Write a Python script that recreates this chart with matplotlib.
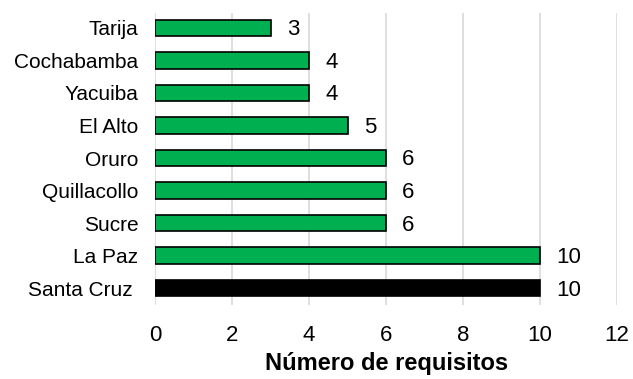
import matplotlib
matplotlib.use("Agg")
import matplotlib.pyplot as plt
import numpy as np

plt.rcParams['font.family'] = ['Liberation Sans', 'DejaVu Sans']

# data (bottom to top)
ciudades = ['Santa Cruz ', 'La Paz', 'Sucre', 'Quillacollo', 'Oruro',
            'El Alto', 'Yacuiba', 'Cochabamba', 'Tarija']
requisitos = [10, 10, 6, 6, 6, 5, 4, 4, 3]
colores = ['#000000'] + ['#00b050'] * 8

fig = plt.figure(figsize=(6.33, 3.79), dpi=100)
ax = fig.add_axes([0.245, 0.195, 0.73, 0.771])

y = np.arange(len(ciudades))
ax.barh(y, requisitos, height=0.5, color=colores, edgecolor='black',
        linewidth=1.2, zorder=3)

for yi, v in zip(y, requisitos):
    ax.text(v + 0.42, yi - 0.06, str(v), va='center', ha='left', fontsize=16)

ax.set_xlim(0, 12)
ax.set_ylim(-0.52, 8.46)
ax.set_xticks(range(0, 13, 2))
ax.set_yticks(y)
ax.set_yticklabels(ciudades, fontsize=15)
ax.tick_params(axis='x', labelsize=16, length=0, pad=14)
ax.tick_params(axis='y', length=0, pad=12)
ax.xaxis.grid(True, color='#d9d9d9', linewidth=1.2, zorder=0)
ax.set_axisbelow(True)
for s in ax.spines.values():
    s.set_visible(False)

ax.set_xlabel('Número de requisitos', fontsize=17, fontweight='bold', labelpad=5)

fig.savefig('out.png', dpi=100)
